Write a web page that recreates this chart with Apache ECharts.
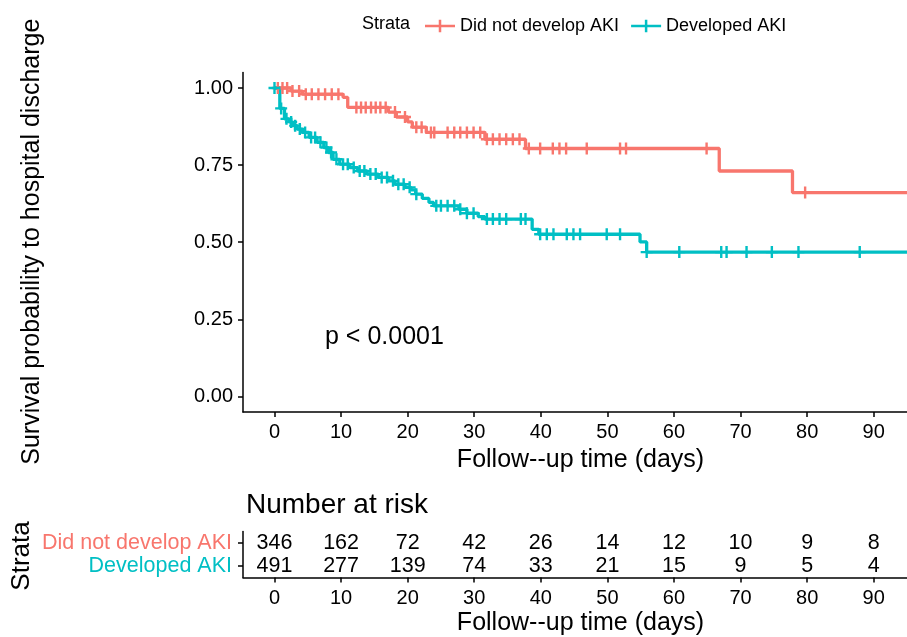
<!DOCTYPE html>
<html>
<head>
<meta charset="utf-8">
<script src="https://cdn.jsdelivr.net/npm/echarts@6/dist/echarts.min.js"></script>
<style>html,body{margin:0;padding:0;background:#fff}#c{width:907px;height:637px}</style>
</head>
<body>
<div id="c"></div>
<script>
// ---- data ----
const strata = ['Did not develop AKI', 'Developed AKI'];
const redTime = [0, 2.5, 4.2, 10.3, 11.0, 17.1, 18.3, 20.0, 20.7, 22.8, 31.6, 37.7, 66.8, 77.8, 95];
const redSurv = [1.0, 0.99, 0.98, 0.97, 0.937, 0.922, 0.906, 0.89, 0.873, 0.856, 0.834, 0.804, 0.731, 0.661, 0.661];
const redCensor = [0.5, 1.2, 1.9, 2.7, 3.7, 4.7, 5.6, 6.6, 7.6, 8.6, 9.6, 12.3, 13.0, 13.7, 14.5, 15.2, 15.9, 16.7, 18.1, 19.6,
  21.3, 22.1, 23.5, 24.0, 26.0, 27.0, 27.9, 28.9, 29.9, 30.9, 31.9, 32.8, 33.8, 34.8, 35.8, 36.8, 38.2, 39.9, 41.8, 42.8,
  43.8, 46.9, 51.9, 52.8, 64.9, 79.7];
const tealTime = [0, 0.8, 1.5, 2.2, 2.7, 3.4, 4.2, 5.2, 6.4, 7.4, 8.1, 8.8, 9.8, 11.3, 12.5, 13.9, 15.6, 17.1, 18.1, 19.6,
  20.5, 21.2, 22.2, 23.2, 23.9, 27.7, 28.9, 30.6, 31.6, 38.7, 39.7, 54.9, 55.9, 95];
const tealSurv = [1.0, 0.934, 0.90, 0.89, 0.878, 0.867, 0.856, 0.84, 0.824, 0.807, 0.791, 0.769, 0.753, 0.742, 0.731, 0.721,
  0.71, 0.699, 0.688, 0.678, 0.670, 0.656, 0.642, 0.629, 0.618, 0.607, 0.594, 0.583, 0.575, 0.542, 0.526, 0.501, 0.468, 0.468];
const tealCensor = [0, 1.0, 1.8, 2.5, 3.1, 3.8, 4.6, 5.5, 6.1, 6.9, 7.8, 8.5, 9.3, 10.3, 11.0, 11.9, 12.8, 13.5, 14.4, 15.2,
  16.1, 16.9, 17.8, 18.6, 19.4, 20.3, 21.3, 24.3, 25.0, 26.0, 27.0, 27.9, 28.9, 29.9, 31.9, 32.8, 33.8, 34.8, 37.0, 37.7,
  39.9, 40.9, 41.9, 43.9, 44.9, 45.9, 49.9, 51.9, 55.9, 60.8, 67.1, 67.9, 70.9, 74.7, 78.7, 87.9];
const xTicks = [0, 10, 20, 30, 40, 50, 60, 70, 80, 90];
const yTicks = [0, 0.25, 0.5, 0.75, 1.0];
const riskNo = [346, 162, 72, 42, 26, 14, 12, 10, 9, 8];
const riskYes = [491, 277, 139, 74, 33, 21, 15, 9, 5, 4];
const pText = 'p < 0.0001';

// ---- helpers ----
const RED = '#F8766D', TEAL = '#00BFC4';
const FONT = 'Liberation Sans, Arial, sans-serif';
function survAt(times, surv, t) {
  let s = surv[0];
  for (let i = 0; i < times.length; i++) { if (times[i] <= t) s = surv[i]; }
  return s;
}
const zip = (a, b) => a.map((v, i) => [v, b[i]]);
const PLUS = 'path://M4,0h2v4h4v2h-4v4h-2v-4h-4v-2h4z';
const LEGICON = 'path://M0,5h13.75v-5h2.5v5h13.75v2.5h-13.75v5h-2.5v-5h-13.75z';
const XMIN = -4.73, XMAX = 95;

const chart = echarts.init(document.getElementById('c'));
const axisLineStyle = { color: '#000', width: 1.5 };
function xAxisCfg(gridIndex) {
  return {
    type: 'value', gridIndex, min: XMIN, max: XMAX,
    axisLine: { show: true, onZero: false, lineStyle: axisLineStyle },
    axisTick: { show: true, customValues: xTicks, length: 5, lineStyle: axisLineStyle },
    axisLabel: { customValues: xTicks, fontSize: 20, color: '#000', margin: 11, fontFamily: FONT },
    splitLine: { show: false }
  };
}
chart.setOption({
  animation: false,
  textStyle: { fontFamily: FONT },
  legend: {
    left: 420, top: 12, itemWidth: 30, itemHeight: 12.5, itemGap: 12,
    textStyle: { fontSize: 18, color: '#000', fontFamily: FONT },
    data: [{ name: strata[0], icon: LEGICON }, { name: strata[1], icon: LEGICON }]
  },
  grid: [
    { left: 243, right: -11, top: 72.6, height: 339.3 },
    { left: 243, right: -11, top: 531.5, height: 46 }
  ],
  xAxis: [xAxisCfg(0), xAxisCfg(1)],
  yAxis: [
    {
      type: 'value', gridIndex: 0, min: -0.05, max: 1.05,
      axisLine: { show: true, onZero: false, lineStyle: axisLineStyle },
      axisTick: { show: true, customValues: yTicks, length: 5, lineStyle: axisLineStyle },
      axisLabel: { customValues: yTicks, fontSize: 20, color: '#000', margin: 10, fontFamily: FONT,
        formatter: v => v.toFixed(2) },
      splitLine: { show: false }
    },
    {
      type: 'category', gridIndex: 1, data: strata, inverse: true, boundaryGap: true,
      axisLine: { show: true, onZero: false, lineStyle: axisLineStyle },
      axisTick: { show: true, alignWithLabel: true, interval: 0, length: 5, lineStyle: axisLineStyle },
      axisLabel: { interval: 0, margin: 11, fontFamily: FONT, fontSize: 21.5,
        color: (v) => (v === strata[0] ? RED : TEAL) },
      splitLine: { show: false }
    }
  ],
  series: [
    { name: strata[0], type: 'line', step: 'end', showSymbol: false, xAxisIndex: 0, yAxisIndex: 0,
      data: zip(redTime, redSurv), lineStyle: { color: RED, width: 3.3 }, itemStyle: { color: RED }, z: 2 },
    { name: strata[1], type: 'line', step: 'end', showSymbol: false, xAxisIndex: 0, yAxisIndex: 0,
      data: zip(tealTime, tealSurv), lineStyle: { color: TEAL, width: 3.3 }, itemStyle: { color: TEAL }, z: 2 },
    { name: strata[0], type: 'scatter', symbol: PLUS, symbolSize: 12, xAxisIndex: 0, yAxisIndex: 0,
      data: redCensor.map(t => [t, survAt(redTime, redSurv, t)]), itemStyle: { color: RED, opacity: 1 }, z: 3 },
    { name: strata[1], type: 'scatter', symbol: PLUS, symbolSize: 12, xAxisIndex: 0, yAxisIndex: 0,
      data: tealCensor.map(t => [t, survAt(tealTime, tealSurv, t)]), itemStyle: { color: TEAL, opacity: 1 }, z: 3 },
    { type: 'scatter', xAxisIndex: 1, yAxisIndex: 1, symbolSize: 0, silent: true,
      itemStyle: { opacity: 1, color: '#000' },
      data: xTicks.map((t, i) => [t, strata[0], riskNo[i]]).concat(xTicks.map((t, i) => [t, strata[1], riskYes[i]])),
      label: { show: true, position: 'inside', formatter: p => String(p.value[2]), fontSize: 21.5, color: '#000',
        textBorderWidth: 0, fontFamily: FONT } }
  ],
  graphic: [
    { type: 'text', x: 32, y: 241.7, rotation: Math.PI / 2,
      style: { text: 'Survival probability to hospital discharge', fontSize: 25, fontFamily: FONT, fill: '#000', align: 'center', verticalAlign: 'middle' } },
    { type: 'text', x: 580.5, y: 460,
      style: { text: 'Follow--up time (days)', fontSize: 25, fontFamily: FONT, fill: '#000', align: 'center', verticalAlign: 'middle' } },
    { type: 'text', x: 580.5, y: 623,
      style: { text: 'Follow--up time (days)', fontSize: 25, fontFamily: FONT, fill: '#000', align: 'center', verticalAlign: 'middle' } },
    { type: 'text', x: 246, y: 505,
      style: { text: 'Number at risk', fontSize: 28, fontFamily: FONT, fill: '#000', align: 'left', verticalAlign: 'middle' } },
    { type: 'text', x: 22, y: 556, rotation: Math.PI / 2,
      style: { text: 'Strata', fontSize: 26, fontFamily: FONT, fill: '#000', align: 'center', verticalAlign: 'middle' } },
    { type: 'text', x: 362, y: 24,
      style: { text: 'Strata', fontSize: 18, fontFamily: FONT, fill: '#000', align: 'left', verticalAlign: 'middle' } },
    { type: 'text', x: 325, y: 337,
      style: { text: pText, fontSize: 25, fontFamily: FONT, fill: '#000', align: 'left', verticalAlign: 'middle' } }
  ]
});
</script>
</body>
</html>
